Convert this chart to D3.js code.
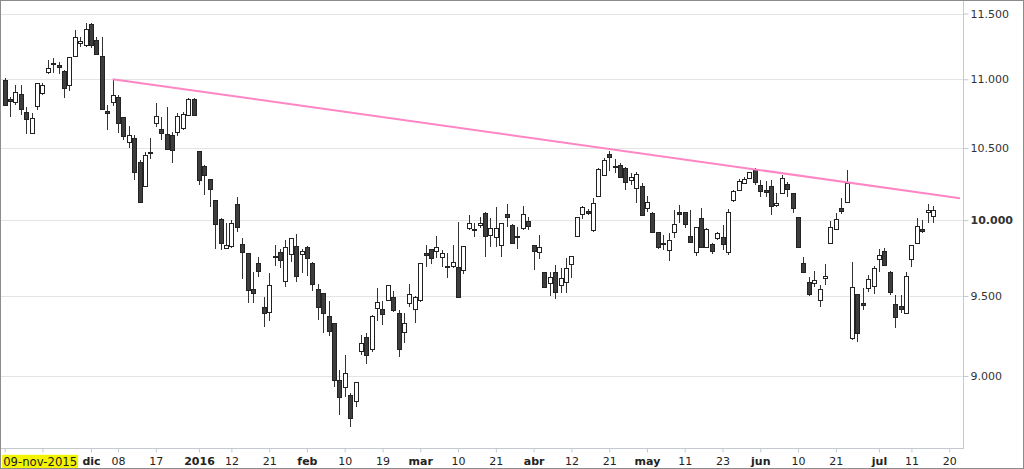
<!DOCTYPE html>
<html>
<head>
<meta charset="utf-8">
<script src="https://cdn.jsdelivr.net/npm/d3@7"></script>
<style>
  body { margin: 0; background: #fff; }
  svg { display: block; }
  text { font-family: "DejaVu Sans", Verdana, sans-serif; }
</style>
</head>
<body>
<svg></svg>
<script>
var width = 1024,
    height = 469;

// daily candles, 09-nov-2015 .. 15-jul-2016 (trading-day index)
var opens = [10994,10855,10832,10891,10758,10608,10803,10898,11055,11115,
  11106,11062,10957,11174,11273,11258,11419,11296,11174,10766,
  10832,10869,10722,10543,10572,10401,10234,10472,10679,10636,
  10600,10593,10615,10643,10737,10854,10479,10373,10282,10138,
  10008,9814,9827,10110,9840,9780,9545,9715,9430,9398,
  9757,9787,9597,9774,9827,9774,9820,9715,9545,9520,
  9373,9328,8976,8934,8885,8849,9153,9241,9166,9424,
  9417,9474,9494,9392,9272,9455,9417,9474,9780,9807,
  9794,9754,9695,9695,9689,9669,9947,9936,9968,10048,
  9900,9887,9834,10041,9968,9894,9947,9994,9834,9787,
  9656,9584,9656,9571,9591,9708,9894,10041,10062,9934,
  10165,10310,10458,10369,10380,10359,10275,10220,10234,10082,
  10048,9920,9843,9800,9920,10055,10055,9894,9787,10014,
  9820,9840,9880,9887,9787,10138,10206,10255,10289,10345,
  10241,10206,10234,10103,10185,10248,10185,10021,9715,9591,
  9584,9474,9617,9847,9941,10082,10124,9234,9513,9455,
  9552,9565,9741,9794,9656,9449,9436,9392,9741,9847,
  9941,10055,10028];
var highs = [11010,10870,10957,10957,10795,10751,10972,10972,11144,11159,
  11129,11069,11167,11373,11319,11427,11427,11319,11319,10810,
  10994,10884,10722,10658,10593,10416,10472,10572,10825,10722,
  10795,10615,10751,10758,10862,10862,10479,10380,10282,10138,
  10014,9981,10001,10158,9880,9780,9656,9754,9494,9649,
  9834,9807,9867,9880,9907,9807,9827,9721,9578,9520,
  9468,9328,9037,9129,8897,8964,9253,9266,9379,9552,
  9468,9571,9533,9411,9392,9578,9500,9715,9834,9807,
  9894,9800,9780,9834,9988,9827,10035,9981,10021,10055,
  10014,10089,9981,10110,9975,9954,10096,10021,9834,9900,
  9656,9656,9702,9682,9747,9760,10021,10096,10075,10151,
  10359,10430,10479,10423,10394,10366,10324,10331,10255,10165,
  10055,9920,9900,9914,10069,10103,10055,10069,9954,10082,
  9947,9847,9920,9968,10075,10206,10282,10296,10331,10359,
  10275,10268,10275,10185,10310,10261,10185,10021,9754,9623,
  9663,9571,9708,9994,10048,10151,10345,9721,9513,9552,
  9636,9695,9807,9814,9663,9507,9507,9656,9834,10014,
  10001,10110,10096];
var lows = [10803,10722,10810,10737,10600,10600,10773,10884,11040,11047,
  11040,10862,10913,11167,11243,11243,11235,11182,10780,10629,
  10803,10608,10557,10500,10275,10117,10227,10423,10651,10557,
  10493,10394,10586,10629,10730,10730,10241,10172,10089,9807,
  9800,9807,9814,9920,9610,9456,9456,9623,9303,9341,
  9695,9682,9558,9721,9591,9649,9630,9533,9347,9266,
  9247,8934,8766,8873,8695,8813,9129,9073,9147,9341,
  9316,9468,9398,9116,9203,9430,9328,9462,9689,9708,
  9747,9689,9617,9682,9494,9643,9934,9887,9947,9754,
  9820,9820,9754,9954,9840,9807,9934,9934,9669,9741,
  9552,9500,9481,9520,9520,9617,9887,10008,10035,9920,
  10158,10303,10338,10324,10289,10206,10241,10117,10035,10055,
  9920,9807,9800,9728,9880,9981,9947,9847,9760,9820,
  9814,9774,9867,9800,9767,10124,10199,10248,10282,10241,
  10158,10158,10035,10089,10185,10158,10048,9820,9656,9500,
  9558,9430,9571,9847,9934,10041,10117,9222,9210,9411,
  9526,9513,9656,9695,9507,9297,9392,9386,9689,9840,
  9914,9981,9981];
var closes = [10810,10840,10906,10780,10708,10715,10972,10957,11084,11121,
  11091,10935,11167,11319,11288,11380,11258,11189,10780,10751,
  10884,10679,10586,10593,10331,10124,10451,10465,10730,10608,
  10493,10486,10730,10744,10854,10737,10275,10310,10213,9974,
  9847,9834,9981,9954,9787,9539,9520,9663,9392,9571,
  9764,9735,9820,9880,9630,9794,9747,9578,9430,9392,
  9278,8976,8873,9018,8748,8964,9203,9129,9373,9462,
  9386,9571,9411,9166,9328,9513,9494,9715,9770,9747,
  9820,9780,9689,9721,9494,9827,9981,9941,9981,9894,
  9947,9947,9981,10021,9847,9887,10041,9961,9794,9820,
  9558,9623,9526,9617,9682,9760,10021,10089,10048,10117,
  10352,10416,10437,10376,10296,10261,10296,10317,10035,10124,
  9920,9820,9850,9867,9974,10041,9974,9854,9954,9820,
  9941,9794,9914,9840,10055,10199,10268,10282,10331,10261,
  10199,10192,10096,10117,10289,10213,10082,9820,9656,9513,
  9604,9545,9630,9954,10008,10062,10255,9558,9266,9443,
  9610,9682,9767,9702,9526,9366,9417,9630,9834,9961,
  9927,10069,10069];

// x axis ticks (trading-day index) and their labels
var tickIdx = [0, 7, 16, 21, 28, 36, 42, 49, 56, 63, 70, 77, 84, 91, 98,
  105, 112, 119, 126, 133, 140, 147, 154, 162, 168, 175];
var tickLabels = ["09-nov-2015", "", "dic", "08", "17", "2016", "12", "21", "feb",
  "10", "19", "mar", "10", "21", "abr", "12", "21", "may", "11", "23", "jun",
  "10", "21", "jul", "11", "20"];
var boldLabels = ["dic", "2016", "feb", "mar", "abr", "may", "jun", "jul"];

var yTicks = [9000, 9500, 10000, 10500, 11000, 11500];

// resistance line: [index, value]
var trendStart = [20, 11000],
    trendEnd = [177, 10150];

var plotRight = 963,
    plotBottom = 448;

var svg = d3.select("svg")
    .attr("width", width)
    .attr("height", height);

var x = d3.scaleLinear()
    .domain([0, 172])
    .range([4.7, 933]);
var y = d3.scaleLog()
    .domain([9000, 11500])
    .range([376, 13.5]);

var fmt = d3.formatLocale({decimal: ",", thousands: ".", grouping: [3], currency: ["", ""]}).format(",");

// grid
svg.append("g")
  .selectAll("line")
  .data(yTicks)
  .enter().append("line")
    .attr("x1", 0)
    .attr("x2", plotRight)
    .attr("y1", d => Math.round(y(d)) + 0.5)
    .attr("y2", d => Math.round(y(d)) + 0.5)
    .attr("stroke", "#e4e4e4");

// candles
var candles = svg.append("g")
  .selectAll("g")
  .data(d3.range(opens.length))
  .enter().append("g");

candles.append("line")
    .attr("x1", i => Math.round(x(i)) + 0.5)
    .attr("x2", i => Math.round(x(i)) + 0.5)
    .attr("y1", i => Math.round(y(highs[i])))
    .attr("y2", i => Math.round(y(lows[i])))
    .attr("stroke", "#333");

candles.append("rect")
    .attr("x", i => Math.round(x(i)) - 1.5)
    .attr("width", 4)
    .attr("y", i => Math.round(y(Math.max(opens[i], closes[i]))) + 0.5)
    .attr("height", i => Math.max(1, Math.round(y(Math.min(opens[i], closes[i]))) - Math.round(y(Math.max(opens[i], closes[i])))))
    .attr("fill", i => closes[i] >= opens[i] ? "#fff" : "#3d3d3d")
    .attr("stroke", "#222");

// trend line
svg.append("line")
    .attr("x1", x(trendStart[0]))
    .attr("y1", y(trendStart[1]))
    .attr("x2", x(trendEnd[0]))
    .attr("y2", y(trendEnd[1]))
    .attr("stroke", "#ff85c4")
    .attr("stroke-width", 2);

// frame lines
svg.append("line")
    .attr("x1", plotRight + 0.5).attr("x2", plotRight + 0.5)
    .attr("y1", 0).attr("y2", plotBottom)
    .attr("stroke", "#c3c9cf");
svg.append("line")
    .attr("x1", 0).attr("x2", plotRight + 1)
    .attr("y1", plotBottom + 0.5).attr("y2", plotBottom + 0.5)
    .attr("stroke", "#c3c9cf");

// right axis
var yAxis = svg.append("g")
    .attr("transform", "translate(" + (plotRight + 0.5) + ",0)")
    .call(d3.axisRight(y).tickValues(yTicks).tickSize(5).tickPadding(2).tickFormat(fmt));
yAxis.select(".domain").remove();
yAxis.selectAll(".tick line").attr("stroke", "#c3c9cf");
yAxis.selectAll(".tick text")
    .attr("fill", "#333")
    .style("font-size", "11px")
    .style("font-family", "'DejaVu Sans', Verdana, sans-serif")
    .style("font-weight", d => d === 10000 ? "bold" : "normal");

// bottom axis
var xAxis = svg.append("g")
    .attr("transform", "translate(0," + (plotBottom + 0.5) + ")")
    .call(d3.axisBottom(x).tickValues(tickIdx).tickSize(4).tickPadding(5)
      .tickFormat((d, i) => tickLabels[i]));
xAxis.select(".domain").remove();
xAxis.selectAll(".tick line").attr("stroke", "#c3c9cf");
xAxis.selectAll(".tick text")
    .attr("fill", "#222")
    .style("font-size", "11px")
    .style("font-family", "'DejaVu Sans', Verdana, sans-serif")
    .style("font-weight", (d, i) => boldLabels.indexOf(tickLabels[i]) >= 0 ? "bold" : "normal");

// first date label, highlighted (sized to fill the yellow box, ~74px)
var first = xAxis.select(".tick text");
first.attr("text-anchor", "start").attr("x", -2);
var w0 = first.node().getBBox().width;
first.style("font-size", (11 * 74 / w0).toFixed(2) + "px");
var bb = first.node().getBBox();
xAxis.select(".tick").insert("rect", "text")
    .attr("x", bb.x - 1)
    .attr("y", bb.y)
    .attr("width", bb.width + 2)
    .attr("height", bb.height + 1)
    .attr("fill", "#f4f400");

// outer border
svg.append("rect")
    .attr("x", 0.5).attr("y", 0.5)
    .attr("width", width - 1).attr("height", height - 1)
    .attr("fill", "none")
    .attr("stroke", "#8c8c8c");
</script>
</body>
</html>
